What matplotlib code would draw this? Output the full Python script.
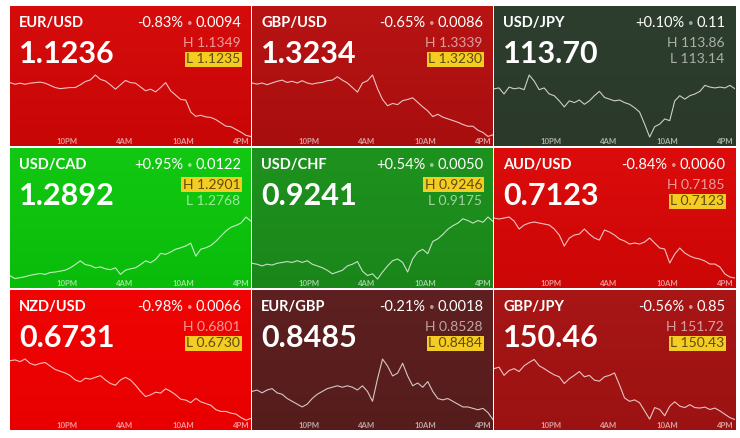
import matplotlib.pyplot as plt
import numpy as np

plt.rcParams['font.family'] = ['Lato', 'DejaVu Sans']

pairs = ['EUR/USD', 'GBP/USD', 'USD/JPY',
         'USD/CAD', 'USD/CHF', 'AUD/USD',
         'NZD/USD', 'EUR/GBP', 'GBP/JPY']
last = ['1.1236', '1.3234', '113.70', '1.2892', '0.9241', '0.7123', '0.6731', '0.8485', '150.46']
pct = ['-0.83%', '-0.65%', '+0.10%', '+0.95%', '+0.54%', '-0.84%', '-0.98%', '-0.21%', '-0.56%']
chg = ['0.0094', '0.0086', '0.11', '0.0122', '0.0050', '0.0060', '0.0066', '0.0018', '0.85']
high = ['1.1349', '1.3339', '113.86', '1.2901', '0.9246', '0.7185', '0.6801', '0.8528', '151.72']
low = ['1.1235', '1.3230', '113.14', '1.2768', '0.9175', '0.7123', '0.6730', '0.8484', '150.43']
marked = ['L', 'L', None, 'H', 'H', 'L', 'L', 'L', 'L']
time_labels = ['10PM', '4AM', '10AM', '4PM']

# half-hourly quotes over the last 24h
eur_usd = [1.1335, 1.1332, 1.1334, 1.1332, 1.1334, 1.1335, 1.1336, 1.1334, 1.1330, 1.1326,
           1.1324, 1.1325, 1.1326, 1.1326, 1.1331, 1.1337, 1.1340, 1.1349, 1.1341, 1.1338,
           1.1331, 1.1323, 1.1331, 1.1339, 1.1335, 1.1334, 1.1327, 1.1320, 1.1323, 1.1318,
           1.1326, 1.1335, 1.1320, 1.1312, 1.1304, 1.1303, 1.1281, 1.1273, 1.1275, 1.1272,
           1.1271, 1.1267, 1.1261, 1.1255, 1.1254, 1.1249, 1.1244, 1.1238, 1.1236]
gbp_usd = [1.3325, 1.3323, 1.3325, 1.3322, 1.3325, 1.3328, 1.3330, 1.3326, 1.3328, 1.3325,
           1.3329, 1.3325, 1.3323, 1.3325, 1.3326, 1.3329, 1.3330, 1.3336, 1.3330, 1.3325,
           1.3317, 1.3309, 1.3325, 1.3329, 1.3339, 1.3315, 1.3296, 1.3285, 1.3289, 1.3287,
           1.3294, 1.3296, 1.3299, 1.3291, 1.3283, 1.3276, 1.3266, 1.3270, 1.3265, 1.3262,
           1.3259, 1.3256, 1.3252, 1.3249, 1.3249, 1.3242, 1.3238, 1.3231, 1.3234]
usd_jpy = [113.70, 113.71, 113.64, 113.72, 113.70, 113.71, 113.69, 113.86, 113.79, 113.69,
           113.71, 113.64, 113.62, 113.56, 113.49, 113.56, 113.54, 113.57, 113.52, 113.56,
           113.62, 113.67, 113.60, 113.58, 113.56, 113.57, 113.54, 113.52, 113.48, 113.43,
           113.29, 113.14, 113.26, 113.29, 113.35, 113.33, 113.56, 113.62, 113.58, 113.62,
           113.64, 113.67, 113.74, 113.72, 113.71, 113.72, 113.71, 113.74, 113.70]
usd_cad = [1.2775, 1.2769, 1.2771, 1.2773, 1.2776, 1.2778, 1.2780, 1.2778, 1.2782, 1.2783,
           1.2785, 1.2787, 1.2792, 1.2799, 1.2807, 1.2799, 1.2797, 1.2792, 1.2794, 1.2790,
           1.2788, 1.2792, 1.2778, 1.2787, 1.2790, 1.2792, 1.2799, 1.2807, 1.2803, 1.2810,
           1.2823, 1.2821, 1.2826, 1.2832, 1.2835, 1.2839, 1.2845, 1.2817, 1.2832, 1.2835,
           1.2840, 1.2849, 1.2860, 1.2871, 1.2879, 1.2883, 1.2888, 1.2901, 1.2892]
usd_chf = [0.9193, 0.9192, 0.9190, 0.9192, 0.9191, 0.9193, 0.9194, 0.9195, 0.9194, 0.9196,
           0.9194, 0.9196, 0.9192, 0.9190, 0.9188, 0.9185, 0.9181, 0.9183, 0.9185, 0.9190,
           0.9192, 0.9195, 0.9184, 0.9179, 0.9181, 0.9175, 0.9183, 0.9190, 0.9196, 0.9198,
           0.9194, 0.9183, 0.9198, 0.9206, 0.9209, 0.9204, 0.9218, 0.9221, 0.9226, 0.9232,
           0.9236, 0.9239, 0.9244, 0.9242, 0.9239, 0.9242, 0.9240, 0.9246, 0.9241]
aud_usd = [0.7184, 0.7183, 0.7184, 0.7185, 0.7181, 0.7173, 0.7177, 0.7179, 0.7180, 0.7179,
           0.7178, 0.7177, 0.7173, 0.7167, 0.7156, 0.7164, 0.7167, 0.7168, 0.7173, 0.7168,
           0.7164, 0.7162, 0.7172, 0.7170, 0.7167, 0.7163, 0.7161, 0.7158, 0.7159, 0.7158,
           0.7160, 0.7164, 0.7159, 0.7154, 0.7153, 0.7139, 0.7148, 0.7154, 0.7149, 0.7146,
           0.7144, 0.7143, 0.7141, 0.7138, 0.7138, 0.7135, 0.7128, 0.7125, 0.7124]
nzd_usd = [0.6799, 0.6800, 0.6798, 0.6801, 0.6796, 0.6794, 0.6796, 0.6797, 0.6793, 0.6789,
           0.6787, 0.6785, 0.6782, 0.6777, 0.6775, 0.6779, 0.6778, 0.6780, 0.6782, 0.6777,
           0.6773, 0.6771, 0.6777, 0.6780, 0.6777, 0.6771, 0.6764, 0.6758, 0.6760, 0.6763,
           0.6762, 0.6767, 0.6764, 0.6760, 0.6755, 0.6754, 0.6751, 0.6756, 0.6752, 0.6750,
           0.6748, 0.6743, 0.6741, 0.6741, 0.6739, 0.6738, 0.6734, 0.6731, 0.6733]
eur_gbp = [0.8505, 0.8506, 0.8504, 0.8506, 0.8507, 0.8504, 0.8503, 0.8500, 0.8498, 0.8496,
           0.8494, 0.8496, 0.8500, 0.8503, 0.8505, 0.8507, 0.8508, 0.8509, 0.8508, 0.8509,
           0.8508, 0.8506, 0.8509, 0.8505, 0.8498, 0.8514, 0.8528, 0.8523, 0.8516, 0.8518,
           0.8525, 0.8516, 0.8509, 0.8511, 0.8508, 0.8512, 0.8505, 0.8500, 0.8499, 0.8500,
           0.8498, 0.8496, 0.8494, 0.8494, 0.8493, 0.8492, 0.8493, 0.8490, 0.8485]
gbp_jpy = [151.52, 151.55, 151.38, 151.48, 151.52, 151.46, 151.58, 151.65, 151.71, 151.58,
           151.52, 151.45, 151.39, 151.35, 151.21, 151.31, 151.38, 151.46, 151.35, 151.38,
           151.28, 151.26, 151.35, 151.38, 151.43, 151.18, 150.91, 150.84, 150.87, 150.81,
           150.64, 150.47, 150.71, 150.67, 150.54, 150.74, 150.83, 150.74, 150.71, 150.77,
           150.71, 150.70, 150.72, 150.67, 150.70, 150.64, 150.57, 150.50, 150.46]
series = [eur_usd, gbp_usd, usd_jpy, usd_cad, usd_chf, aud_usd, nzd_usd, eur_gbp, gbp_jpy]

# tile background colours, top -> bottom
bg_top = ['#d60c0c', '#b81414', '#2d3e2e', '#12c812', '#1e921e', '#dc0c0c', '#f00404', '#5e2020', '#a81616']
bg_bot = ['#c80606', '#a80e0e', '#2a392a', '#0abc0a', '#1a861a', '#cc0606', '#e80000', '#561c1c', '#9c1212']
yellow = '#f4cc22'

fig = plt.figure(figsize=(7.4, 4.38), dpi=100)
W, H = 740, 438
lefts = [10, 252, 494]
tops = [6, 148, 290]
tw, th = 241, 140

for i, name in enumerate(pairs):
    r, c = divmod(i, 3)
    ax = fig.add_axes([lefts[c] / W, 1 - (tops[r] + th) / H, tw / W, th / H])
    ax.set_axis_off()

    # vertical gradient background
    c0 = np.array(plt.matplotlib.colors.to_rgb(bg_top[i]))
    c1 = np.array(plt.matplotlib.colors.to_rgb(bg_bot[i]))
    t = np.linspace(0, 1, 64)[:, None, None]
    grad = c0 * (1 - t) + c1 * t
    ax.imshow(grad, extent=[0, 1, 0, 1], transform=ax.transAxes, aspect='auto', zorder=0)

    vals = series[i]
    x = np.linspace(0, 24, len(vals))
    hi, lo = float(high[i]), float(low[i])
    span = (hi - lo) / (0.507 - 0.064)
    ymin = lo - 0.064 * span
    ax.plot(x, vals, color='white', alpha=0.75, lw=0.8, zorder=2)
    ax.set_xlim(0, 24)
    ax.set_ylim(ymin, ymin + span)

    # header texts
    ax.text(0.0375, 0.878, name, transform=ax.transAxes, color='white',
            fontsize=10.5, fontweight='bold', va='center', ha='left')
    ax.text(0.0375, 0.655, last[i], transform=ax.transAxes, color='white',
            fontsize=22, fontweight='bold', va='center', ha='left')

    t1 = ax.text(0.962, 0.878, chg[i], transform=ax.transAxes, color='white',
                 fontsize=10.5, va='center', ha='right')
    t2 = ax.annotate('\u2022', xy=(0, 0.5), xycoords=t1, xytext=(-2.5, 0),
                     textcoords='offset points', color=(1, 1, 1, 0.55),
                     fontsize=7, va='center', ha='right')
    ax.annotate(pct[i], xy=(0, 0.5), xycoords=t2, xytext=(-2.5, 0),
                textcoords='offset points', color='white',
                fontsize=10.5, va='center', ha='right')

    for lab, val, yy in [('H', high[i], 0.738), ('L', low[i], 0.62)]:
        if marked[i] == lab:
            ax.text(0.955, yy, lab + ' ' + val, transform=ax.transAxes, color='#5e4c0c',
                    fontsize=10, va='center', ha='right',
                    bbox=dict(boxstyle='square,pad=0.1', fc=yellow, ec='none'))
        else:
            ax.text(0.955, yy, lab + ' ' + val, transform=ax.transAxes,
                    color=(1, 1, 1, 0.6), fontsize=10, va='center', ha='right')

    for k, lab in enumerate(time_labels):
        ax.text([0.235, 0.477, 0.721, 0.958][k], 0.03, lab, transform=ax.transAxes,
                color=(1, 1, 1, 0.6), fontsize=5.6, fontweight='bold', va='center', ha='center')

fig.savefig('out.png', dpi=100, facecolor='white')
